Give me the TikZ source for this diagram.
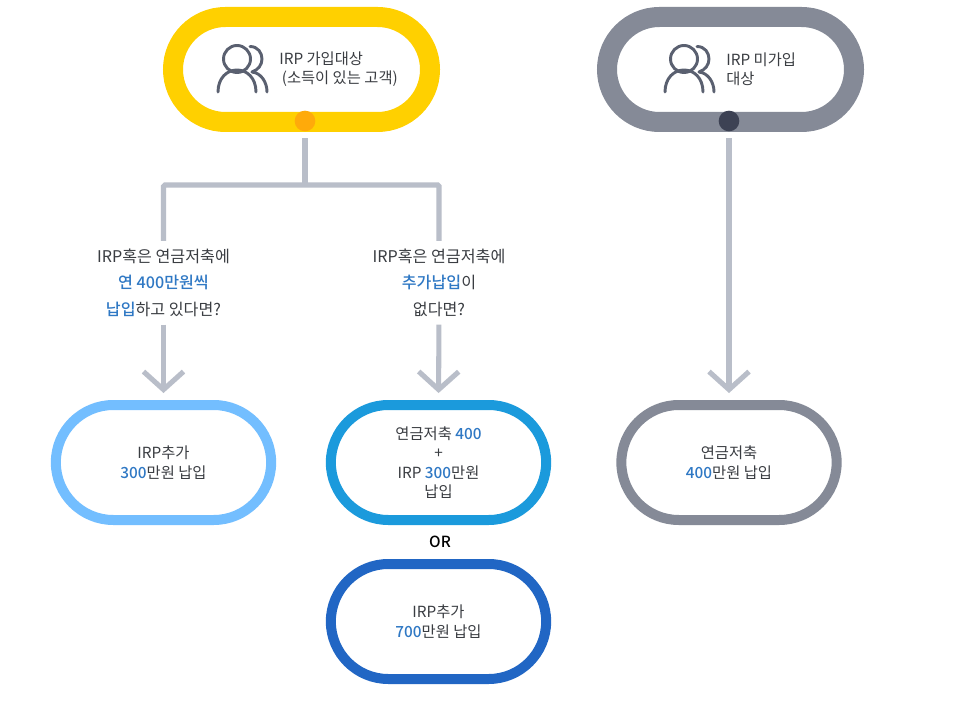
\documentclass[tikz,border=0pt]{standalone}
\usepackage{fontspec}
\setmainfont{Noto Sans CJK KR}
\newfontfamily\hlfont{Noto Sans CJK KR Medium}
\usetikzlibrary{arrows.meta,shapes.misc}
\definecolor{ink}{HTML}{3A3D42}
\definecolor{hl}{HTML}{2F78C4}
\definecolor{conn}{HTML}{B9BEC9}
\definecolor{slate}{HTML}{858A97}
\definecolor{icon}{HTML}{5A6070}
\definecolor{yel}{RGB}{255,208,0}
\definecolor{sky}{RGB}{115,190,255}
\definecolor{midblue}{RGB}{27,154,220}
\definecolor{deepblue}{RGB}{33,102,196}
\definecolor{orangedot}{RGB}{255,170,10}
\definecolor{darkdot}{RGB}{61,66,84}
\newcommand{\hlt}[1]{\textcolor{hl}{\hlfont #1}}
\newcommand{\peopleicon}[1]{%
  \begin{scope}[shift={(#1,0)},line width=2.2pt,draw=icon,line cap=round]
    \draw (237,59) circle (13.5);
    \draw (218,92) .. controls (218,78) and (227,70) .. (237,70) .. controls (247,70) and (256,78) .. (256,92);
    \draw (250,46.5) .. controls (258,46.5) and (262,53) .. (262,59) .. controls (262,65) and (258,70) .. (252,72);
    \draw (252,72) .. controls (261,73) and (267,82) .. (267,92);
  \end{scope}}
\tikzset{
  x=0.75pt,y=-0.75pt,
  pill/.style={draw=#1,fill=white,rounded rectangle,rounded rectangle arc length=180,align=center,outer sep=0pt,inner sep=0pt,text=ink,font=\fontsize{11.5pt}{14.6pt}\selectfont},
  bigpill/.style={pill=#1,line width=15pt,minimum width=192.75pt,minimum height=78.75pt},
  smallpill/.style={pill=#1,line width=7.5pt,minimum width=161.5pt,minimum height=86.25pt},
  dot/.style={circle,fill=#1,minimum size=15.5pt,inner sep=0pt,outer sep=0pt},
  plabel/.style={align=center,text=ink,inner sep=0pt,font=\fontsize{11.5pt}{14.6pt}\selectfont},
  question/.style={align=center,text=ink,inner sep=0pt,font=\fontsize{12.1pt}{19.9pt}\selectfont},
  orlabel/.style={text=black,inner sep=0pt,font=\fontsize{11.5pt}{13pt}\hlfont},
  link/.style={draw=conn,line width=3.8pt},
  arrowlink/.style={link,-{Straight Barb[length=13.5pt,width=30pt,line width=3.8pt]}},
}
\begin{document}
\begin{tikzpicture}
\useasboundingbox (0,0) rectangle (966,712);
\fill[white] (0,0) rectangle (966,712);
% pills
\node[bigpill=yel] (join) at (301.5,69.5) {};
\node[bigpill=slate,minimum width=185.25pt] (nojoin) at (730.5,69.5) {};
\node[smallpill=sky] (a) at (163.5,462.5) {IRP추가\\\hlt{300}만원 납입};
\node[smallpill=midblue] (b) at (438.5,462.5) {연금저축 \hlt{400}\\+\\IRP \hlt{300}만원\\납입};
\node[smallpill=deepblue] (c) at (438.5,621.5) {IRP추가\\\hlt{700}만원 납입};
\node[smallpill=slate] (d) at (729,462.5) {연금저축\\\hlt{400}만원 납입};
% dots
\node[dot=orangedot] (jd) at (305,121) {};
\node[dot=darkdot] (nd) at (729,121) {};
% text
\node[plabel,anchor=west,align=left] (jt) at (279,69) {IRP 가입대상\\\,(소득이 있는 고객)};
\node[plabel,anchor=west,align=left] (nt) at (726,69) {IRP 미가입\\대상};
\peopleicon{0}
\peopleicon{447}
\node[question] (q1) at (163.5,282.5) {IRP혹은 연금저축에\\\hlt{연 400만원씩}\\\hlt{납입}하고 있다면?};
\node[question] (q2) at (439,282.5) {IRP혹은 연금저축에\\\hlt{추가납입}이\\없다면?};
\node[orlabel] (or) at (440,541.5) {OR};
% connectors
\coordinate (fork) at (305,185);
\draw[link] (jd.south) ++(0,7) -- (fork);
\draw[link,rounded corners=1pt] ([yshift=5.5pt]q1.north) |- (fork) -| ([yshift=5.5pt]q2.north);
\draw[arrowlink,shorten <=6pt,shorten >=9pt] (q1.south) -- (a.north);
\draw[arrowlink,shorten <=6pt,shorten >=9pt] (q2.south) -- (b.north);
\draw[arrowlink,shorten >=9pt] (nd.south) ++(0,7) -- (d.north);
\end{tikzpicture}
\end{document}
